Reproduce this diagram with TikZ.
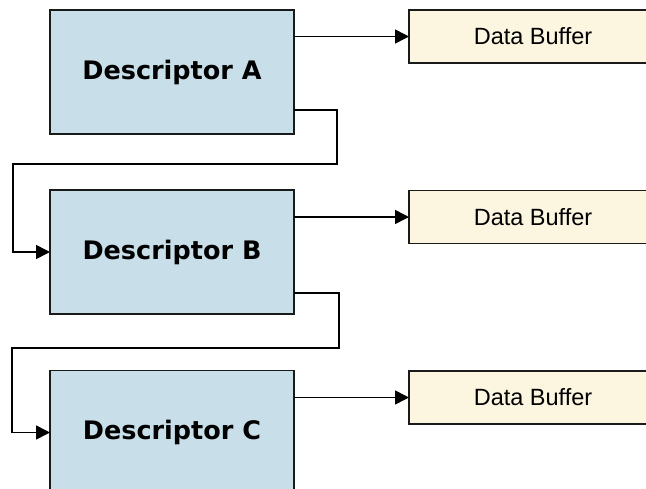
\documentclass[tikz,border=0pt]{standalone}
\usepackage{fontspec}
\setmainfont{Liberation Sans}
\newfontfamily\descfont{DejaVu Sans}
\usetikzlibrary{arrows.meta}
\definecolor{descblue}{HTML}{C8DFEA}
\definecolor{bufcream}{HTML}{FCF6E0}
\definecolor{edge}{HTML}{1A1A1A}
\tikzset{
  desc/.style={draw=edge, line width=1.8pt, fill=descblue, minimum width=244pt, minimum height=124pt, inner sep=0pt, outer sep=0pt, font=\descfont\bfseries\fontsize{25.5}{28}\selectfont},
  buf/.style={draw=edge, line width=1.8pt, fill=bufcream, minimum width=248pt, minimum height=53pt, inner sep=0pt, outer sep=0pt, font=\fontsize{23.5}{26}\selectfont},
  link/.style={draw=black, line width=1.6pt, -{Triangle[length=14pt,width=14pt]}},
}
\begin{document}
\begin{tikzpicture}[x=1pt,y=-1pt]
\clip (0,0) rectangle (646,488);
\fill[white] (0,0) rectangle (646,488);
\node[desc] (A) at (172,72) {Descriptor A};
\node[desc] (B) at (172,252) {Descriptor B};
\node[desc] (C) at (172,432.5) {Descriptor C};
\node[buf] (D1) at (533,36.5) {Data Buffer};
\node[buf] (D2) at (533,217) {Data Buffer};
\node[buf] (D3) at (533,397.5) {Data Buffer};
\draw[link] (D1.west -| A.east) -- (D1.west);
\draw[link] (D2.west -| B.east) -- (D2.west);
\draw[link] (D3.west -| C.east) -- (D3.west);
\draw[link] ([yshift=24pt]A.south east) -| (337,164) -- (13,164) |- (B.west);
\draw[link] ([yshift=21pt]B.south east) -| (339,348) -- (12,348) |- (C.west);
\end{tikzpicture}
\end{document}
